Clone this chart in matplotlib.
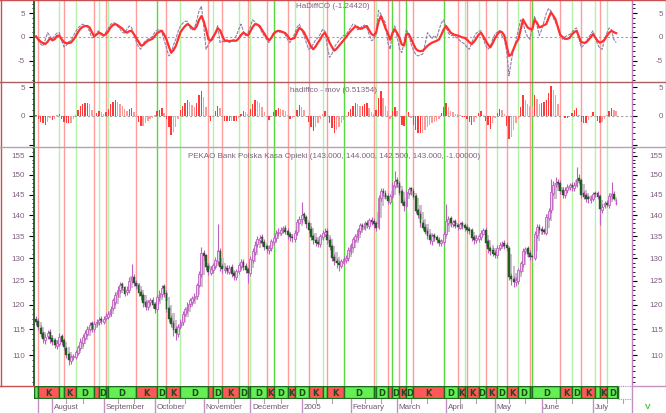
import numpy as np
import matplotlib
matplotlib.use("Agg")
import matplotlib.pyplot as plt
from matplotlib.lines import Line2D
from matplotlib.patches import Rectangle
from matplotlib.ticker import FixedLocator, NullFormatter
from matplotlib.transforms import blended_transform_factory

plt.rcParams['font.family'] = ['Liberation Sans', 'DejaVu Sans']

# ---- data (one value per trading day) ----
opens = np.array("""
117.0 116.6 115.3 114.2 112.8 113.6 114.5 113.2 112.8 111.8
112.2 113.6 112.8 111.4 110.2 108.8 109.6 109.7 110.4 111.3
112.4 113.3 114.0 115.0 116.2 115.0 116.2 116.4 117.0 116.4
117.2 117.4 118.1 119.2 120.6 122.2 123.0 124.3 123.6 122.6
123.0 125.2 125.9 124.6 124.2 122.6 121.9 120.5 119.6 120.6
121.0 120.2 119.1 121.6 122.2 123.8 122.5 119.3 117.2 116.2
115.0 114.0 115.6 116.4 118.1 118.8 120.1 120.6 121.4 121.8
124.2 126.4 131.2 130.7 128.2 126.8 127.4 128.2 129.4 131.6
128.2 127.4 127.8 127.0 128.0 126.7 125.8 127.1 128.2 129.2
128.3 127.5 126.7 129.6 131.4 133.2 134.0 134.7 133.7 132.7
131.8 132.2 133.7 134.5 135.8 135.8 136.6 137.0 136.2 135.4
134.9 134.3 135.9 138.2 139.1 140.2 139.5 138.1 136.7 135.0
134.2 133.7 133.2 134.8 135.6 136.3 134.2 132.7 130.3 129.4
129.0 128.3 129.0 129.6 130.1 131.6 132.6 134.1 134.8 136.2
137.7 137.0 138.2 137.4 138.9 138.6 138.0 137.2 144.2 146.0
145.5 144.7 143.2 144.6 147.3 148.8 147.9 145.8 143.2 142.2
145.3 146.6 146.0 144.7 141.3 140.3 138.2 137.2 136.2 135.3
133.8 135.2 134.7 134.2 133.4 133.7 135.4 138.2 139.3 137.8
138.5 137.6 137.0 138.0 137.6 137.2 136.7 136.4 134.7 134.1
134.3 134.8 135.6 136.5 133.8 132.2 131.8 131.2 130.7 132.2
133.1 133.4 133.0 132.2 126.0 125.5 124.7 125.0 127.1 128.7
131.7 132.2 131.2 130.5 130.1 135.2 137.2 136.7 136.4 135.8
139.4 141.2 145.3 147.8 148.3 148.0 146.2 144.8 146.1 146.8
147.5 146.6 147.4 149.2 148.7 145.3 144.8 144.3 143.6 144.0
145.3 145.4 144.7 141.3 142.2 143.0 142.4 144.6 145.2 143.0
""".split(), float)

highs = np.array("""
117.6 117.2 115.8 114.6 114.0 114.8 115.0 113.8 113.3 112.8
114.2 114.0 113.2 111.8 110.6 110.0 110.3 111.0 112.0 113.2
114.0 114.8 115.6 116.4 116.6 116.6 117.0 117.4 117.6 117.6
118.2 118.6 119.8 121.4 122.6 123.8 124.8 124.8 124.0 123.8
125.8 128.7 126.4 125.2 124.6 123.2 122.4 121.0 121.0 121.4
121.6 120.6 122.0 123.0 124.2 124.3 123.0 119.8 117.8 116.8
115.6 116.0 117.0 118.6 119.6 120.6 121.4 121.8 122.4 124.6
127.2 132.5 131.8 131.0 128.8 128.2 129.0 130.2 137.9 132.2
128.8 128.2 128.4 128.5 128.6 127.2 127.6 128.8 129.8 129.8
128.8 128.0 130.5 132.2 133.8 135.0 135.2 135.4 134.4 133.2
132.9 134.4 135.2 136.4 136.8 137.2 137.4 137.6 136.8 136.0
135.5 136.4 139.0 139.8 143.2 140.8 140.0 138.6 137.4 135.6
134.8 134.4 135.6 136.4 136.8 137.0 134.8 133.2 130.9 130.0
129.6 129.8 130.4 130.6 132.4 133.4 134.8 135.6 137.0 138.2
138.2 138.6 138.8 139.4 139.5 139.2 138.5 144.8 146.6 146.6
146.2 145.3 145.2 148.2 150.9 149.4 148.4 146.4 143.9 146.2
147.0 147.0 146.6 145.2 141.8 140.9 138.8 137.8 136.8 135.8
135.6 135.8 135.2 134.8 134.4 136.2 142.7 139.8 139.8 138.9
139.0 138.2 138.4 138.6 138.2 137.8 137.2 137.0 135.2 135.2
135.6 136.4 137.0 137.2 134.4 132.8 132.4 131.8 132.9 133.6
133.8 134.0 133.6 132.6 126.6 126.1 125.8 127.8 129.4 132.2
132.6 132.8 131.8 131.0 136.2 137.8 137.8 137.3 137.0 140.2
141.8 149.0 148.4 149.4 148.9 148.6 146.8 146.8 147.8 148.0
148.2 148.2 152.0 150.2 149.2 145.9 145.4 144.9 144.8 145.6
145.9 146.0 145.2 142.8 143.4 143.6 145.3 148.1 145.8 144.0
""".split(), float)

lows = np.array("""
115.8 114.9 113.4 112.4 112.2 113.0 112.4 112.0 111.4 111.2
111.8 112.0 110.9 109.4 108.2 108.4 109.0 109.2 110.0 110.9
111.8 112.8 113.6 114.6 114.4 114.4 115.6 115.8 116.0 116.0
116.8 117.0 117.6 118.8 120.0 121.6 122.4 123.0 121.8 122.0
122.4 124.6 123.8 123.2 121.8 121.0 119.6 118.8 118.9 119.8
119.2 118.2 118.6 120.8 121.6 121.6 118.4 116.4 115.4 113.6
112.8 113.4 115.0 115.8 117.6 118.2 119.4 120.0 120.8 121.2
123.6 125.8 129.6 127.4 126.2 126.2 126.8 127.6 128.6 127.2
126.8 126.8 126.4 126.4 125.8 125.2 125.2 126.4 127.6 127.4
126.6 124.5 126.0 128.9 130.8 132.4 133.4 132.8 131.8 131.2
131.0 131.6 133.0 133.8 135.0 135.2 135.8 135.4 134.4 133.8
133.6 133.6 135.2 137.8 138.2 138.6 137.0 135.8 134.0 133.2
132.8 132.6 132.6 134.2 135.0 133.2 131.8 129.4 128.4 127.8
127.1 127.8 128.4 129.0 129.4 131.0 132.0 133.6 134.2 135.6
136.4 136.4 136.8 136.6 137.6 137.0 136.2 136.6 143.4 144.6
143.8 142.6 142.6 143.8 146.6 147.0 144.8 142.4 141.0 141.6
144.8 145.0 143.8 140.4 139.2 137.2 136.4 135.4 134.4 133.2
133.0 133.8 133.4 132.8 132.8 133.0 135.0 137.6 137.2 137.2
136.8 136.4 136.6 136.6 136.2 135.8 135.4 133.8 133.2 133.4
133.6 134.2 135.4 132.8 131.2 130.8 130.4 130.0 130.0 131.8
132.4 132.0 131.6 125.2 124.2 123.7 124.0 124.4 126.6 128.0
131.0 130.2 129.6 129.6 129.6 134.6 135.8 135.6 135.4 135.2
138.8 140.6 144.8 146.8 147.0 145.2 144.2 144.2 145.4 146.2
146.0 146.0 146.8 147.8 144.2 143.8 143.2 143.0 143.0 143.4
144.4 143.8 137.7 140.6 141.6 142.0 141.8 144.0 143.6 142.5
""".split(), float)

closes = np.array("""
116.5 115.5 114.0 113.0 113.5 114.3 113.0 112.5 112.0 112.3
113.5 112.5 111.5 110.0 109.0 109.5 109.8 110.5 111.5 112.5
113.5 114.2 115.0 115.8 115.0 116.0 116.5 116.8 116.6 117.0
117.6 118.0 119.0 120.8 122.0 123.0 124.0 123.5 122.3 123.0
125.0 125.8 124.5 124.0 122.5 121.8 120.3 119.5 120.5 120.8
120.0 119.0 121.5 122.3 123.5 122.3 119.0 117.0 116.0 114.8
114.2 115.5 116.5 118.0 119.0 120.0 120.8 121.3 121.8 124.0
126.5 131.0 130.5 128.0 127.0 127.5 128.3 129.5 131.5 128.0
127.5 127.6 127.2 127.8 126.5 126.0 127.0 128.3 129.0 128.0
127.3 126.8 129.8 131.5 133.0 134.2 134.5 133.5 132.5 132.0
132.3 133.8 134.6 135.7 136.0 136.5 136.8 136.0 135.2 134.7
134.5 135.8 138.3 139.0 140.0 139.3 137.8 136.5 134.8 134.0
133.5 133.3 135.0 135.8 136.0 134.0 132.5 130.0 129.3 128.8
128.5 129.2 129.8 130.0 131.8 132.8 134.2 135.0 136.3 137.5
137.2 138.0 137.6 138.8 138.3 137.8 137.0 144.0 145.8 145.3
144.5 143.5 144.5 147.5 148.5 147.8 145.5 143.0 142.3 145.5
146.3 145.8 144.5 141.0 140.0 138.0 137.0 136.0 135.0 134.0
135.0 134.5 134.0 133.5 133.8 135.5 138.5 139.0 138.0 138.3
137.5 137.2 137.8 137.3 137.0 136.5 136.2 134.5 134.0 134.5
135.0 135.8 136.3 133.5 132.0 131.5 131.0 130.8 132.3 133.0
133.2 132.8 132.3 125.8 125.3 124.8 125.2 127.2 128.8 131.5
132.0 131.0 130.3 130.2 135.5 137.0 136.5 136.2 136.0 139.5
141.0 145.5 147.5 148.0 147.8 146.0 145.0 146.0 147.0 147.3
146.8 147.5 149.0 148.5 145.0 144.5 144.0 143.8 144.2 145.0
145.2 144.5 141.5 142.0 142.8 142.5 144.5 145.0 144.0 143.0
""".split(), float)

# HaDiffCO: raw (thin dashed) and smoothed (thick red); the histogram follows the smoothed one
ha_raw = np.array("""
0.3 -0.8 -1.5 -1.9 -0.6 0.9 0.2 -0.5 0.3 0.8
0.9 -0.8 -2.1 -1.8 -1.0 -0.8 0.2 1.1 1.9 2.3
2.7 2.4 2.1 1.2 -0.2 0.0 0.9 1.3 0.4 0.2
1.0 1.8 2.6 3.0 2.9 2.2 1.7 1.0 0.8 1.6
2.3 2.0 0.4 -0.9 -2.1 -2.6 -1.4 -0.8 -0.5 -0.2
0.1 1.0 1.4 1.6 1.0 -0.7 -2.3 -4.0 -3.6 -1.7
-0.5 1.2 2.3 2.9 3.3 3.3 2.0 1.4 1.9 3.5
5.5 6.5 2.2 -2.6 -1.6 -0.8 -0.5 1.0 2.4 -1.2
-0.9 -1.1 -0.6 -1.2 -0.8 -0.5 0.3 1.6 2.7 1.2
0.3 0.9 2.2 3.6 3.2 2.4 2.0 0.9 0.2 -0.6
-1.2 -0.2 0.8 1.2 1.3 0.8 1.1 0.5 -0.6 -1.2
-0.3 0.6 2.0 2.7 1.5 0.3 -1.2 -2.6 -2.3 -1.5
-0.6 -0.2 0.6 1.6 1.2 -2.0 -4.3 -3.6 -2.2 -1.4
-0.8 -0.2 0.3 0.4 1.2 1.9 2.7 2.5 1.5 1.8
2.3 2.5 1.8 0.5 -0.8 -0.5 0.5 5.6 4.8 3.7
3.0 -1.2 -2.6 1.0 2.3 0.0 -2.5 -3.3 -1.0 1.6
0.4 -1.5 -2.8 -3.7 -4.0 -3.8 -3.6 -1.5 0.9 0.2
-0.3 0.3 -0.2 1.5 3.0 3.6 2.0 0.8 0.3 0.3
0.0 -0.3 -0.8 -1.2 -1.5 -2.2 -2.6 -1.2 0.0 0.8
1.2 1.3 -0.5 -1.8 -2.6 -2.0 -0.5 0.6 1.0 1.3
0.2 -0.5 -3.0 -8.2 -5.0 -2.6 -0.8 1.5 3.6 3.0
1.2 0.0 -0.5 2.0 4.4 2.5 0.3 1.5 3.2 5.0
6.0 5.5 4.0 3.0 2.3 0.8 -0.5 0.0 0.3 0.5
1.0 1.6 1.9 -0.3 -2.2 -1.8 -1.0 -0.3 0.5 1.3
0.0 -1.5 -2.4 -2.6 -0.5 0.8 1.9 1.5 -0.5 -1.2
""".split(), float)

ha_smooth = np.array("""
0.1 -0.5 -1.0 -1.3 -1.5 -1.0 -0.3 -0.7 -0.5 0.2
0.3 -0.5 -1.1 -1.3 -1.3 -1.2 -0.6 0.1 1.0 1.7
2.1 2.3 2.3 2.0 1.0 0.1 0.5 0.9 0.7 0.3
0.6 1.2 2.0 2.5 2.7 2.5 2.1 1.8 1.2 0.9
1.2 1.3 0.6 -0.2 -1.0 -1.8 -1.7 -1.2 -0.8 -0.6
-0.4 0.2 0.8 1.1 1.3 0.5 -0.5 -2.0 -3.3 -2.8
-1.9 -0.5 1.0 1.7 2.3 2.7 2.4 1.9 1.6 2.3
3.6 4.4 3.3 1.5 -0.5 -0.8 0.0 0.8 1.8 1.4
0.2 -0.8 -0.8 -0.9 -0.8 -0.8 -0.8 -0.3 0.4 0.9
0.6 0.3 1.2 2.1 2.7 2.6 2.3 1.5 0.7 -0.1
-0.7 -0.2 0.7 1.1 1.3 1.2 1.0 0.8 0.2 -0.5
-0.4 -0.2 1.0 1.9 1.6 1.0 0.0 -1.0 -2.0 -2.6
-2.0 -1.2 -0.5 0.4 0.9 0.0 -1.2 -2.1 -2.9 -2.5
-1.9 -1.3 -0.7 -0.1 0.6 1.2 1.7 2.2 2.1 1.7
1.8 2.1 2.3 1.4 0.6 0.3 1.0 3.2 4.4 3.2
1.8 0.8 -0.6 0.8 1.6 0.8 -0.2 -1.6 -1.8 0.6
0.6 -0.4 -1.5 -2.5 -2.9 -3.0 -2.9 -2.4 -1.9 -1.5
-1.2 -1.0 -0.8 -0.5 0.5 1.6 2.3 1.6 0.9 0.6
0.4 0.3 0.1 -0.1 -0.2 -0.6 -1.1 -1.5 -1.0 -0.3
0.5 0.9 0.1 -0.8 -1.6 -2.2 -1.3 -0.3 0.5 1.2
1.0 0.3 -1.8 -4.0 -3.7 -2.5 -1.3 -0.5 1.5 3.7
2.8 2.0 1.7 1.6 3.6 3.0 2.0 2.2 2.5 2.7
4.0 5.2 4.5 3.7 2.0 0.4 0.0 -0.4 -0.4 -0.2
0.5 1.0 1.3 0.1 -1.1 -1.2 -1.2 -0.7 -0.1 0.6
-0.1 -0.8 -1.2 -1.0 -0.6 0.2 0.9 1.3 1.0 0.8
""".split(), float)

# signal bars (red = sell "K", green = buy "D")
sell_bars = [1, 12, 25, 30, 43, 56, 74, 80, 91, 99, 108, 117, 125, 145, 151,
             156, 162, 181, 185, 193, 202, 212, 225, 234, 242]
buy_bars = [10, 17, 27, 31, 52, 62, 76, 87, 92, 102, 111, 123, 132, 146, 153,
            159, 175, 184, 190, 198, 207, 213, 230, 240, 245]
strong_buy = [52, 102, 132, 153, 159, 175, 213]

month_names = ["August", "September", "October", "November", "December", "2005",
               "February", "March", "April", "May", "June", "July"]
month_start = [7, 29, 51, 72, 92, 114, 135, 155, 176, 197, 217, 239]

osc_ticks = [-5, 0, 5]
hist_ticks = [0, 5]
price_ticks = [110, 115, 120, 125, 130, 135, 140, 145, 150, 155]

# ---- layout (pixels) ----
W, H = 666, 414
X0, X1 = 34, 632
bar_w = 2.33
xlo = (X0 - 36) / bar_w
xhi = (X1 - 36) / bar_w
n = len(closes)
idx = np.arange(n)

TXT = '#806080'
FS = 5.8

fig = plt.figure(figsize=(W / 100, H / 100), dpi=100)
fig.patch.set_facecolor('white')


def add_ax(y0, y1, x0=X0, x1=X1):
    return fig.add_axes([x0 / W, 1 - y1 / H, (x1 - x0) / W, (y1 - y0) / H])


def fig_line(x0, y0, x1, y1, color, lw=1.0, ls='-'):
    fig.add_artist(Line2D([x0 / W, x1 / W], [1 - y0 / H, 1 - y1 / H],
                          transform=fig.transFigure, color=color, lw=lw, ls=ls))


def style_panel(ax, ticks, minor, labels):
    ax.set_xlim(xlo, xhi)
    ax.set_xticks([])
    for s in ['top', 'bottom']:
        ax.spines[s].set_visible(False)
    ax.spines['left'].set_color('#1e5a1e')
    ax.spines['left'].set_linewidth(1.3)
    ax.spines['right'].set_color('#c080c0')
    ax.spines['right'].set_linewidth(1.0)
    ax.yaxis.set_major_locator(FixedLocator(ticks))
    ax.yaxis.set_minor_locator(FixedLocator(minor))
    ax.yaxis.set_major_formatter(NullFormatter())
    ax.yaxis.set_minor_formatter(NullFormatter())
    ax.tick_params(axis='y', which='both', left=True, right=True, direction='out')
    ax.tick_params(axis='y', which='major', length=3.6, width=0.8)
    ax.tick_params(axis='y', which='minor', length=1.8, width=0.6)
    for t in ax.yaxis.get_major_ticks():
        t.tick1line.set_color('#b04848')
        t.tick2line.set_color('#c070c0')
    for t in ax.yaxis.get_minor_ticks():
        t.tick1line.set_color('#2e6a2e')
        t.tick2line.set_color('#c080c0')
    tr = blended_transform_factory(ax.transAxes, ax.transData)
    for v, lab in zip(ticks, labels):
        ax.text((25 - X0) / (X1 - X0), v, lab, transform=tr, ha='right', va='center',
                fontsize=FS, color=TXT, clip_on=False)
        ax.text((663 - X0) / (X1 - X0), v, lab, transform=tr, ha='right', va='center',
                fontsize=FS, color=TXT, clip_on=False)


def signal_lines(ax):
    for b in sell_bars:
        ax.axvline(b, color='#ff9c9c', lw=1.0, zorder=0)
    for b in buy_bars:
        c = '#5ad840' if b in strong_buy else '#b4f2a8'
        ax.axvline(b, color=c, lw=1.0, zorder=0)


# ---- top panel: HaDiffCO ----
ax1 = add_ax(0, 83)
ax1.set_ylim(-9.5, 8.0)
style_panel(ax1, osc_ticks, range(-9, 8), [str(v) for v in osc_ticks])
signal_lines(ax1)
ax1.axhline(0, color='#a0a0a0', lw=0.8, ls=(0, (2, 2)), zorder=1)
ax1.plot(idx, ha_raw, color='#9080a8', lw=0.8, ls=(0, (3, 1)), zorder=2)
ax1.plot(idx, ha_smooth, color='#ff3030', lw=1.6, zorder=3)

# ---- middle panel: histogram ----
ax2 = add_ax(83, 148)
ax2.set_ylim(-5.4, 5.9)
style_panel(ax2, [-5] + hist_ticks, range(-5, 6), ['', '0', '5'])
signal_lines(ax2)
ax2.axhline(0, color='#a0a0a0', lw=0.8, ls=(0, (2, 2)), zorder=1)
hist_cols = ['#ff3a3a' if (i == 0 or abs(v) >= abs(ha_smooth[i - 1])) else '#ff9a9a'
             for i, v in enumerate(ha_smooth)]
ax2.bar(idx, ha_smooth, width=0.6, color=hist_cols, zorder=2)

# ---- price panel ----
ax3 = add_ax(148, 387)
ax3.set_yscale('log')
ax3.set_ylim(104.3, 157.4)
style_panel(ax3, price_ticks, range(105, 158), [str(v) for v in price_ticks])
signal_lines(ax3)

# Heikin-Ashi bodies drawn faintly behind the candles
ha_close = (opens + highs + lows + closes) / 4
ha_open = np.empty(n)
ha_open[0] = (opens[0] + closes[0]) / 2
for i in range(1, n):
    ha_open[i] = (ha_open[i - 1] + ha_close[i - 1]) / 2
ax3.bar(idx, np.abs(ha_close - ha_open), bottom=np.minimum(ha_open, ha_close),
        width=0.95, color='#cdc0cd', zorder=1)

ax3.vlines(idx, lows, highs, color='#c060c0', lw=0.8, zorder=2)
down = closes < opens
ax3.bar(idx[down], (opens - closes)[down], bottom=closes[down], width=0.8,
        color='#1f5f1f', edgecolor='#1f5f1f', lw=0.3, zorder=3)
ax3.bar(idx[~down], (closes - opens)[~down] + 0.05, bottom=opens[~down], width=0.8,
        color='#ecd2ec', edgecolor='#c060c0', lw=0.6, zorder=3)

# ---- signal strip ----
ax4 = add_ax(387, 400)
ax4.set_xlim(xlo, xhi)
ax4.set_ylim(0, 1)
ax4.axis('off')
events = sorted([(b, 'K') for b in sell_bars] + [(b, 'D') for b in buy_bars])
bounds = [xlo] + [e[0] for e in events] + [n]
kinds = ['D'] + [e[1] for e in events]
for k in range(len(kinds)):
    a, b = bounds[k], bounds[k + 1]
    col = '#ff5858' if kinds[k] == 'K' else '#66ee55'
    ax4.add_patch(Rectangle((a, 0), b - a, 1, facecolor=col, edgecolor='#1e6a1e', lw=1.0))
    if b - a >= 3:
        ax4.text((a + b) / 2, 0.5, kinds[k], ha='center', va='center', fontsize=6,
                 fontweight='bold', color='#1e4a1e', family='DejaVu Sans')
ax4.add_patch(Rectangle((xlo, 0), n - xlo, 1, fill=False, edgecolor='#1e6a1e', lw=1.6))
ax4.plot([n, xhi], [1, 1], color='#c080c0', lw=0.8, ls=(0, (1, 1)), clip_on=False)
ax4.plot([n, xhi], [0, 0], color='#c080c0', lw=0.8, ls=(0, (1, 1)), clip_on=False)

# ---- date axis ----
trx = blended_transform_factory(ax4.transData, fig.transFigure)
for m, name in zip(month_start, month_names):
    fig.add_artist(Line2D([m, m], [1 - 400 / H, 1 - 414 / H], transform=trx,
                          color='#c090c0', lw=1.0))
    fig.text(m + 0.7, 1 - 408 / H, name, transform=trx, fontsize=FS, color='#705870',
             ha='left', va='center')
    for off in (6, 13):
        fig.add_artist(Line2D([m + off, m + off], [1 - 400 / H, 1 - 404 / H], transform=trx,
                              color='#b0a0b0', lw=0.8))
fig.add_artist(Line2D([1, 1], [1 - 400 / H, 1 - 414 / H], transform=trx,
                      color='#c090c0', lw=1.0))

# ---- titles ----
fig.text(333 / W, 1 - 7 / H, "HaDiffCO (-1.24420)", ha='center', va='center',
         fontsize=FS, color=TXT)
fig.text(333 / W, 1 - 90 / H, "hadiffco - mov (0.51354)", ha='center', va='center',
         fontsize=FS, color=TXT)
fig.text(334 / W, 1 - 156 / H,
         "PEKAO Bank Polska Kasa Opieki (143.000, 144.000, 142.500, 143.000, -1.00000)",
         ha='center', va='center', fontsize=FS, color=TXT)
fig.text(648 / W, 1 - 408 / H, "V", ha='center', va='center', fontsize=6,
         color='#40c040', fontweight='bold')

# ---- frame lines ----
fig_line(0, 0.5, W, 0.5, '#c85050', 1.0)
fig_line(0.5, 0, 0.5, 387, '#c85050', 1.0)
fig_line(W - 0.5, 0, W - 0.5, 387, '#c85050', 1.0)
fig_line(0, 83, W, 83, '#a86060', 1.0)
fig_line(0, 148, W, 148, '#b8a0b0', 1.0)
fig_line(0, 387, X0, 387, '#c85050', 1.0)
fig_line(X1, 387, W, 387, '#c890c0', 1.0)
fig_line(X1, 387, X1, 414, '#c090c0', 1.0)

fig.savefig('out.png', dpi=100)
